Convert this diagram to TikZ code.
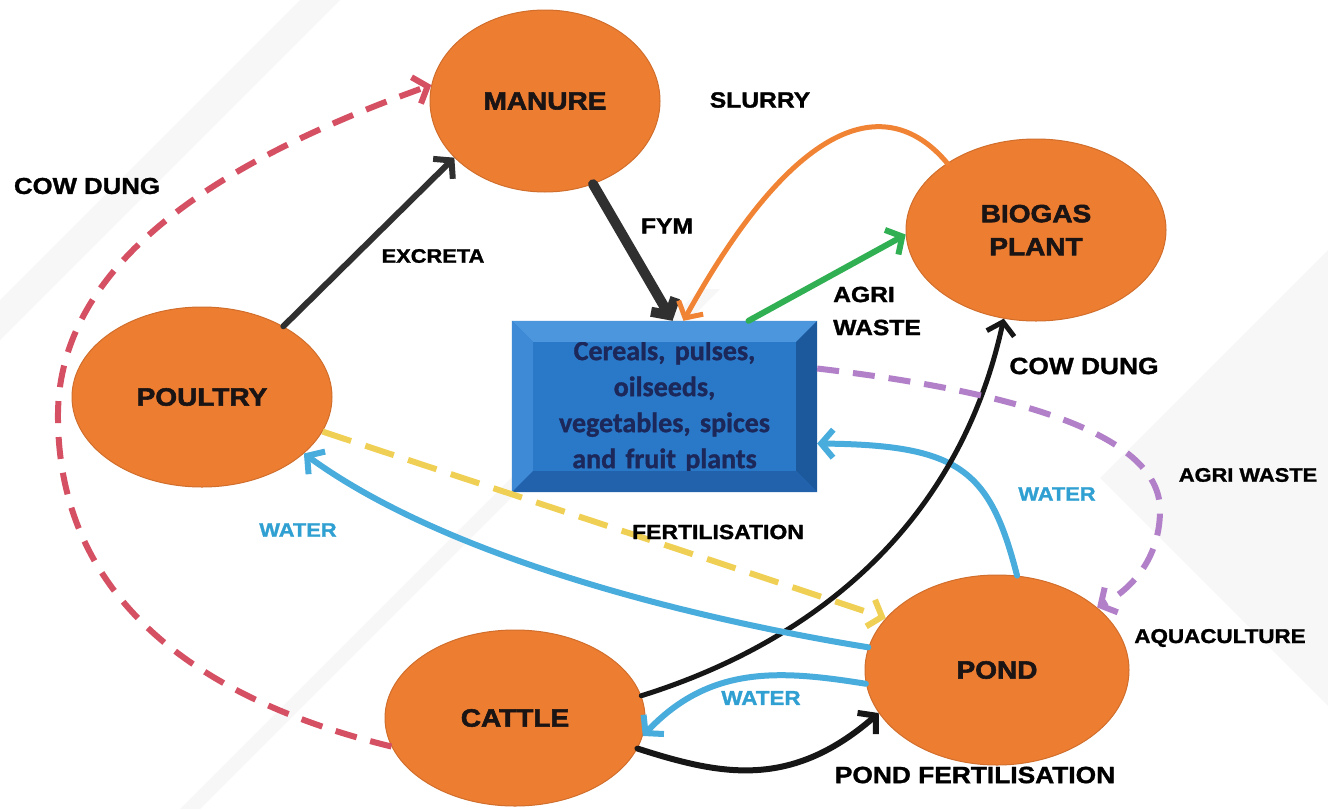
\documentclass[tikz,border=0pt]{standalone}
\usepackage{fontspec}
\usetikzlibrary{arrows.meta,shapes.geometric}
\newfontfamily\labfont{Liberation Sans Bold}[FakeStretch=1.12,FakeBold=1.4]
\newfontfamily\hubfont{Liberation Sans Bold}[FakeStretch=1.12,FakeBold=2.2]
\newfontfamily\cropfont{Carlito Bold}[FakeBold=1.2]
\definecolor{hubfill}{RGB}{237,125,49}
\definecolor{hubtext}{RGB}{26,20,20}
\definecolor{boxface}{RGB}{42,120,200}
\definecolor{bevtop}{RGB}{76,150,222}
\definecolor{bevleft}{RGB}{62,138,214}
\definecolor{bevright}{RGB}{28,88,156}
\definecolor{bevbottom}{RGB}{34,98,172}
\definecolor{croptext}{RGB}{28,40,90}
\definecolor{redflow}{RGB}{214,80,100}
\definecolor{yellowflow}{RGB}{240,208,84}
\definecolor{purpleflow}{RGB}{178,128,200}
\definecolor{blueflow}{RGB}{72,172,220}
\definecolor{greenflow}{RGB}{48,176,82}
\definecolor{orangeflow}{RGB}{240,132,52}
\definecolor{darkflow}{RGB}{48,48,48}
\definecolor{blackflow}{RGB}{22,22,22}
\definecolor{watertext}{RGB}{48,160,210}
\definecolor{bgband}{RGB}{247,247,247}
\begin{document}
\begin{tikzpicture}[x=1pt,y=-1pt,
  hub/.style={ellipse, fill=hubfill, draw=hubfill!88!black, line width=1pt,
    inner sep=0pt, text=hubtext, align=center,
    font=\hubfont\fontsize{25}{33}\selectfont},
  lbl/.style={inner sep=0pt, text=black, align=left,
    font=\labfont\fontsize{#1}{33}\selectfont},
  flow/.style={line width=6pt, line cap=round,
    -{Straight Barb[length=12pt,width=28pt]}},
  dflow/.style={line width=6pt, line cap=butt,
    dash pattern=on 22pt off 14pt,
    -{Straight Barb[length=12pt,width=28pt]}},
  cropbox/.style={rectangle, fill=boxface, inner sep=0pt,
    minimum width=305pt, minimum height=171pt, text width=280pt,
    align=center, text=croptext,
    font=\cropfont\fontsize{28}{36}\selectfont}
]
\useasboundingbox (0,0) rectangle (1328,809);
\fill[white] (0,0) rectangle (1328,809);

% faint diagonal background bands
\fill[bgband] (0,300) -- (300,0) -- (340,0) -- (0,340) -- cycle;
\fill[bgband] (180,809) -- (700,289) -- (720,289) -- (200,809) -- cycle;
\fill[bgband] (1328,250) -- (1100,478) -- (1328,706) -- cycle;

% farm components
\node[hub, minimum width=230pt, minimum height=182pt] (manure) at (545,101) {MANURE};
\node[hub, minimum width=260pt, minimum height=182pt] (biogas) at (1036,230) {BIOGAS\\PLANT};
\node[hub, minimum width=260pt, minimum height=180pt] (poultry) at (202,397) {POULTRY};
\node[hub, minimum width=260pt, minimum height=176pt] (cattle) at (515,718) {CATTLE};
\node[hub, minimum width=264pt, minimum height=190pt] (pond) at (997,670) {POND};

% bevelled crop box
\node[cropbox] (box) at (664.5,406.5)
  {Cereals, pulses,\\oilseeds,\\vegetables, spices\\and fruit plants};
\fill[bevtop] (box.north west) -- (box.north east)
  -- ([shift={(-21,21)}]box.north east) -- ([shift={(21,21)}]box.north west) -- cycle;
\fill[bevleft] (box.north west) -- ([shift={(21,21)}]box.north west)
  -- ([shift={(21,-21)}]box.south west) -- (box.south west) -- cycle;
\fill[bevright] (box.north east) -- ([shift={(-21,21)}]box.north east)
  -- ([shift={(-21,-21)}]box.south east) -- (box.south east) -- cycle;
\fill[bevbottom] (box.south west) -- ([shift={(21,-21)}]box.south west)
  -- ([shift={(-21,-21)}]box.south east) -- (box.south east) -- cycle;

% flows
\draw[dflow, redflow] (cattle.193) .. controls (200,700) and (60,600) .. (58,420)
  .. controls (55,250) and (250,150) .. (manure.172);
\draw[flow, darkflow] (poultry.41) -- (manure.212);
\draw[flow, darkflow, line width=10pt] (manure.300) -- ([xshift=8pt]box.north);
\draw[flow, orangeflow, line width=5pt] (biogas.143) .. controls (890,95) and (800,110)
  .. ([xshift=19pt]box.north);
\draw[flow, greenflow] ([xshift=84pt]box.north) -- (biogas.182);
\draw[flow, blueflow] (pond.78) .. controls (990,470) and (960,445)
  .. ([yshift=-37pt]box.east);
\draw[flow, blackflow, line width=5pt] (cattle.10) .. controls (820,640) and (960,520)
  .. (biogas.250);
\draw[dflow, purpleflow] ([yshift=38pt]box.east) .. controls (1000,390) and (1160,430)
  .. (1160,510) .. controls (1160,560) and (1130,590) .. (pond.32);
\draw[dflow, yellowflow, dash pattern=on 30pt off 15pt] (poultry.344) -- (pond.155);
\draw[flow, blueflow] (pond.170) .. controls (700,620) and (450,560) .. (poultry.331);
\draw[flow, blueflow] (pond.186) .. controls (780,670) and (710,665) .. (cattle.352);
\draw[flow, blackflow] (cattle.346) .. controls (720,775) and (790,790) .. (pond.200);

% flow labels
\node[lbl=22] (lslurry) at (760,100) {SLURRY};
\node[lbl=23] (lcowdungl) at (87,186) {COW DUNG};
\node[lbl=19.5] (lexcreta) at (433,256) {EXCRETA};
\node[lbl=22] (lfym) at (667,226) {FYM};
\node[lbl=22, anchor=west] (lagri) at (833,311) {AGRI\\WASTE};
\node[lbl=23.5] (lcowdungr) at (1084,366) {COW DUNG};
\node[lbl=19.5] (lagriwaste) at (1248,475) {AGRI WASTE};
\node[lbl=19.5, text=watertext] (lwaterr) at (1057,494) {WATER};
\node[lbl=20.5] (lfert) at (718,532) {FERTILISATION};
\node[lbl=19.5, text=watertext] (lwaterl) at (298,530) {WATER};
\node[lbl=20] (laqua) at (1220,638) {AQUACULTURE};
\node[lbl=20, text=watertext] (lwaterb) at (761,698) {WATER};
\node[lbl=23.5] (lpondfert) at (975,775) {POND FERTILISATION};
\end{tikzpicture}
\end{document}
